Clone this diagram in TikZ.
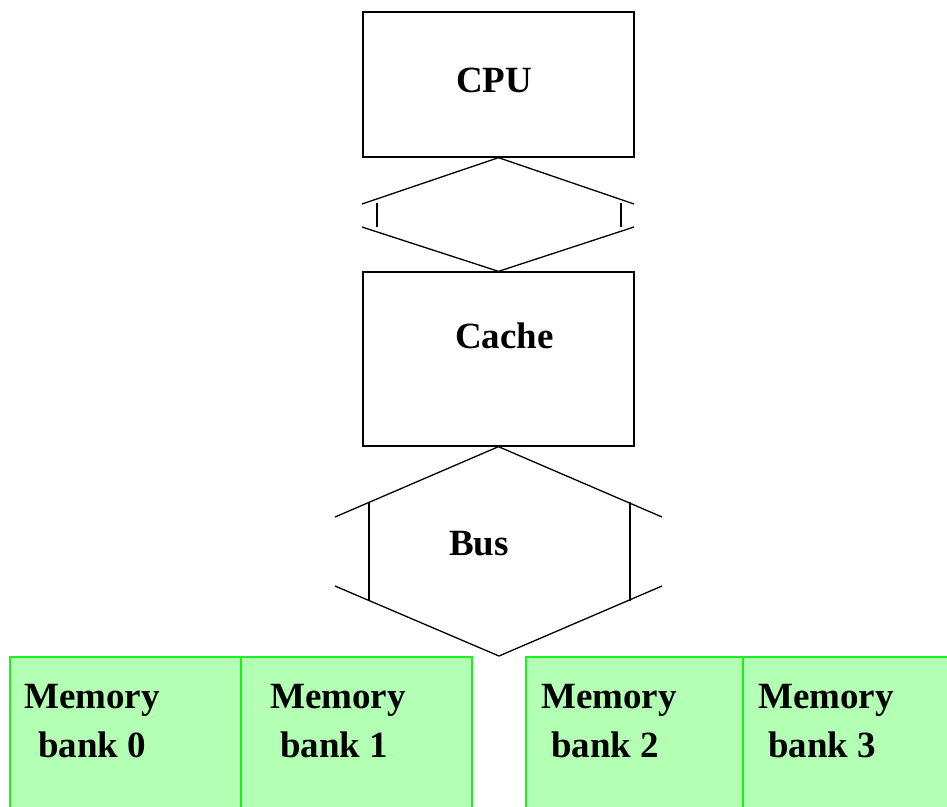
\documentclass[tikz,border=0pt]{standalone}
\usepackage{fontspec}
\setmainfont{Liberation Serif}
\definecolor{bankfill}{RGB}{179,255,179}
\definecolor{bankline}{RGB}{30,240,30}
\tikzset{
  unitbox/.style={draw=black,line width=1.3pt,minimum width=271pt,minimum height=#1,inner sep=0pt},
  banklbl/.style={anchor=north west,align=left,inner sep=0pt,font=\fontsize{37}{49}\selectfont\bfseries},
  boxlbl/.style={anchor=base west,inner sep=0pt,font=\fontsize{37}{43}\selectfont\bfseries},
  link/.style={line width=1.3pt}
}
\begin{document}
\begin{tikzpicture}[x=1pt,y=-1pt]
  \useasboundingbox (0,0) rectangle (947,806);
  % processor and cache
  \node [unitbox=145pt] (cpu) at (498.5,84.5) {};
  \node [unitbox=174pt] (cache) at (498.5,359) {};
  \node [boxlbl] (cpulbl) at (456,92) {CPU};
  \node [boxlbl] (cachelbl) at (455,348) {Cache};
  % link between cpu and cache
  \draw [link] (362,204) -- (cpu.south) -- (634,204);
  \draw [link] (362,227) -- (cache.north) -- (634,227);
  \draw [link] (377,203) -- (377,227);
  \draw [link] (621,203) -- (621,227);
  % bus
  \coordinate (busbot) at (499,656);
  \draw [link] (335,517) -- (cache.south) -- (662,517);
  \draw [link] (335,586) -- (busbot) -- (662,586);
  \draw [link] (369,502) -- (369,601);
  \draw [link] (630,502) -- (630,601);
  \node [boxlbl] (buslbl) at (449,555) {Bus};
  % memory banks
  \filldraw [fill=bankfill,draw=bankline,line width=1.5pt] (10,657) rectangle (472,820);
  \filldraw [fill=bankfill,draw=bankline,line width=1.5pt] (526,657) rectangle (960,820);
  \draw [bankline,line width=1.3pt] (241,657) -- (241,820);
  \draw [bankline,line width=1.3pt] (743,657) -- (743,820);
  \node [banklbl] (bank0) at (24,684) {Memory\\\hspace{14pt}bank 0};
  \node [banklbl] (bank1) at (270,684) {Memory\\\hspace{10pt}bank 1};
  \node [banklbl] (bank2) at (541,684) {Memory\\\hspace{10pt}bank 2};
  \node [banklbl] (bank3) at (758,684) {Memory\\\hspace{10pt}bank 3};
\end{tikzpicture}
\end{document}
